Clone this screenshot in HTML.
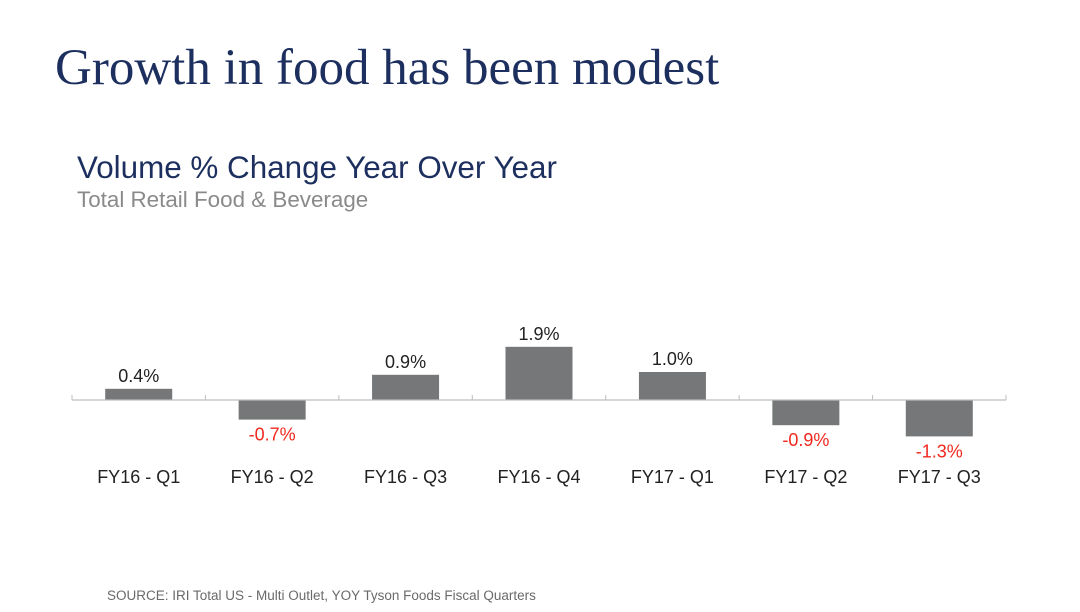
<!DOCTYPE html>
<html><head><meta charset="utf-8"><style>
body{margin:0;width:1080px;height:607px;background:#fff;overflow:hidden;font-family:"Liberation Sans",sans-serif}
</style></head><body>
<svg width="1080" height="607" viewBox="0 0 1080 607">
<text x="55" y="84" font-family="Liberation Serif, serif" font-size="51" fill="#1c2f5e">Growth in food has been modest</text>
<text x="77" y="178" font-size="31.4" fill="#1c2f5e">Volume % Change Year Over Year</text>
<text x="77" y="207" font-size="22.4" fill="#8a8a8a">Total Retail Food &amp; Beverage</text>
<g id="chart"></g>
<text x="107" y="600" font-size="13.5" fill="#6a6a6a">SOURCE: IRI Total US - Multi Outlet, YOY Tyson Foods Fiscal Quarters</text>
</svg>
<script>
const categories=["FY16 - Q1","FY16 - Q2","FY16 - Q3","FY16 - Q4","FY17 - Q1","FY17 - Q2","FY17 - Q3"];
const values=[0.4,-0.7,0.9,1.9,1.0,-0.9,-1.3];
const valueLabels=["0.4%","-0.7%","0.9%","1.9%","1.0%","-0.9%","-1.3%"];
const NS="http://www.w3.org/2000/svg";
const g=document.getElementById('chart');
const x0=72,x1=1006,zeroY=400,pxPer=28;
const bw=(x1-x0)/categories.length;
const y=v=>zeroY-v*pxPer;
function mk(t,a){const e=document.createElementNS(NS,t);for(const k in a)e.setAttribute(k,a[k]);g.appendChild(e);return e;}
categories.forEach((c,i)=>{
  const v=values[i],cx=x0+bw*(i+0.5);
  const r=mk('rect',{x:cx-33.5,y:Math.min(y(v),zeroY),width:67,height:Math.abs(y(v)-zeroY),fill:'#757779'});
  
  
  const lt=mk('text',{x:cx,'text-anchor':'middle','font-size':18,fill:v<0?'#f0281e':'#222',y:v<0?y(v)+21:y(v)-7});
  lt.textContent=valueLabels[i];
  
  
  const ct=mk('text',{x:cx,y:483,'text-anchor':'middle','font-size':18,fill:'#222'});
  ct.textContent=c;
  
  
});
const ax=mk('line',{x1:x0,x2:x1,y1:zeroY,y2:zeroY,stroke:'#bdbdbd','stroke-width':1.2});


for(let i=0;i<=categories.length;i++){
  const tx=x0+bw*i;
  const t=mk('line',{x1:tx,x2:tx,y1:zeroY-5,y2:zeroY,stroke:'#bdbdbd','stroke-width':1});
  
  
}
</script>
</body></html>
